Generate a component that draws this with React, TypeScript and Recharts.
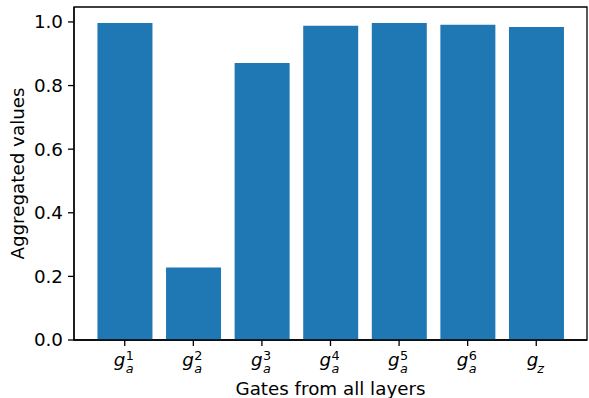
import { BarChart, Bar, XAxis, YAxis, ReferenceArea } from 'recharts';

const gateIds = [0, 1, 2, 3, 4, 5, 6];
const gateSup = ['1', '2', '3', '4', '5', '6', ''];
const gateSub = ['a', 'a', 'a', 'a', 'a', 'a', 'z'];
const aggregated = [0.997, 0.228, 0.871, 0.988, 0.997, 0.991, 0.984];
const yTicks = [0, 0.2, 0.4, 0.6, 0.8, 1.0];

const data = gateIds.map((id, i) => ({ id, value: aggregated[i] }));

const FONT = 'DejaVu Sans';
const FS = 18.3;
const FS_SCRIPT = 12.8;
const X_DOMAIN: [number, number] = [-0.74, 6.74];
const Y_DOMAIN: [number, number] = [0, 1.047];

// mathtext-like tick: g with subscript and optional superscript, as one text element
function GateTick(props: any) {
    const { x, y, payload } = props;
    const i = payload.value as number;
    const sup = gateSup[i];
    const base = y + 18;
    const gx = sup ? x - 11 : x - 9.5;
    const sx = x + 1;
    return (
        <text style={{ fontFamily: FONT }} fill="#000">
            <tspan x={gx} y={base} style={{ fontSize: FS, fontStyle: 'italic' }}>g</tspan>
            <tspan x={sx} y={base + 7} style={{ fontSize: FS_SCRIPT, fontStyle: 'italic' }}>{gateSub[i]}</tspan>
            {sup && (
                <tspan x={sx} y={base - 6.5} style={{ fontSize: FS_SCRIPT }}>{sup}</tspan>
            )}
        </text>
    );
}

function XTitle(props: any) {
    const { viewBox } = props;
    const cx = viewBox.x + viewBox.width / 2;
    return (
        <text x={cx} y={viewBox.y + 54.5} textAnchor="middle" style={{ fontFamily: FONT, fontSize: FS }} fill="#000">
            Gates from all layers
        </text>
    );
}

function YTitle(props: any) {
    const { viewBox } = props;
    const cy = viewBox.y + viewBox.height / 2;
    const x = viewBox.x + 24;
    return (
        <text x={x} y={cy} transform={`rotate(-90, ${x}, ${cy})`} textAnchor="middle" style={{ fontFamily: FONT, fontSize: FS }} fill="#000">
            Aggregated values
        </text>
    );
}

export default function App() {
    return (
        <div style={{ position: 'absolute', left: 0, top: 0, background: '#fff' }}>
            <BarChart
                width={589}
                height={398}
                data={data}
                margin={{ top: 7, right: 2, left: 0, bottom: 0 }}
            >
                <XAxis
                    dataKey="id"
                    type="number"
                    domain={X_DOMAIN}
                    ticks={gateIds}
                    interval={0}
                    height={58}
                    tick={<GateTick />}
                    tickSize={6}
                    axisLine={{ stroke: '#000', strokeWidth: 1.3 }}
                    tickLine={{ stroke: '#000', strokeWidth: 1.3 }}
                    label={<XTitle />}
                />
                <YAxis
                    domain={Y_DOMAIN}
                    ticks={yTicks}
                    width={74}
                    tickSize={6}
                    tickMargin={5}
                    tickFormatter={(v: number) => v.toFixed(1)}
                    tick={{ fill: '#000', fontSize: FS, fontFamily: FONT }}
                    axisLine={{ stroke: '#000', strokeWidth: 1.3 }}
                    tickLine={{ stroke: '#000', strokeWidth: 1.3 }}
                    label={<YTitle />}
                />
                <Bar dataKey="value" fill="#1f77b4" barSize={55} isAnimationActive={false} />
                <ReferenceArea
                    x1={X_DOMAIN[0]}
                    x2={X_DOMAIN[1]}
                    y1={Y_DOMAIN[0]}
                    y2={Y_DOMAIN[1]}
                    fill="none"
                    fillOpacity={0}
                    stroke="#000"
                    strokeWidth={1.3}
                    ifOverflow="visible"
                />
            </BarChart>
        </div>
    );
}
